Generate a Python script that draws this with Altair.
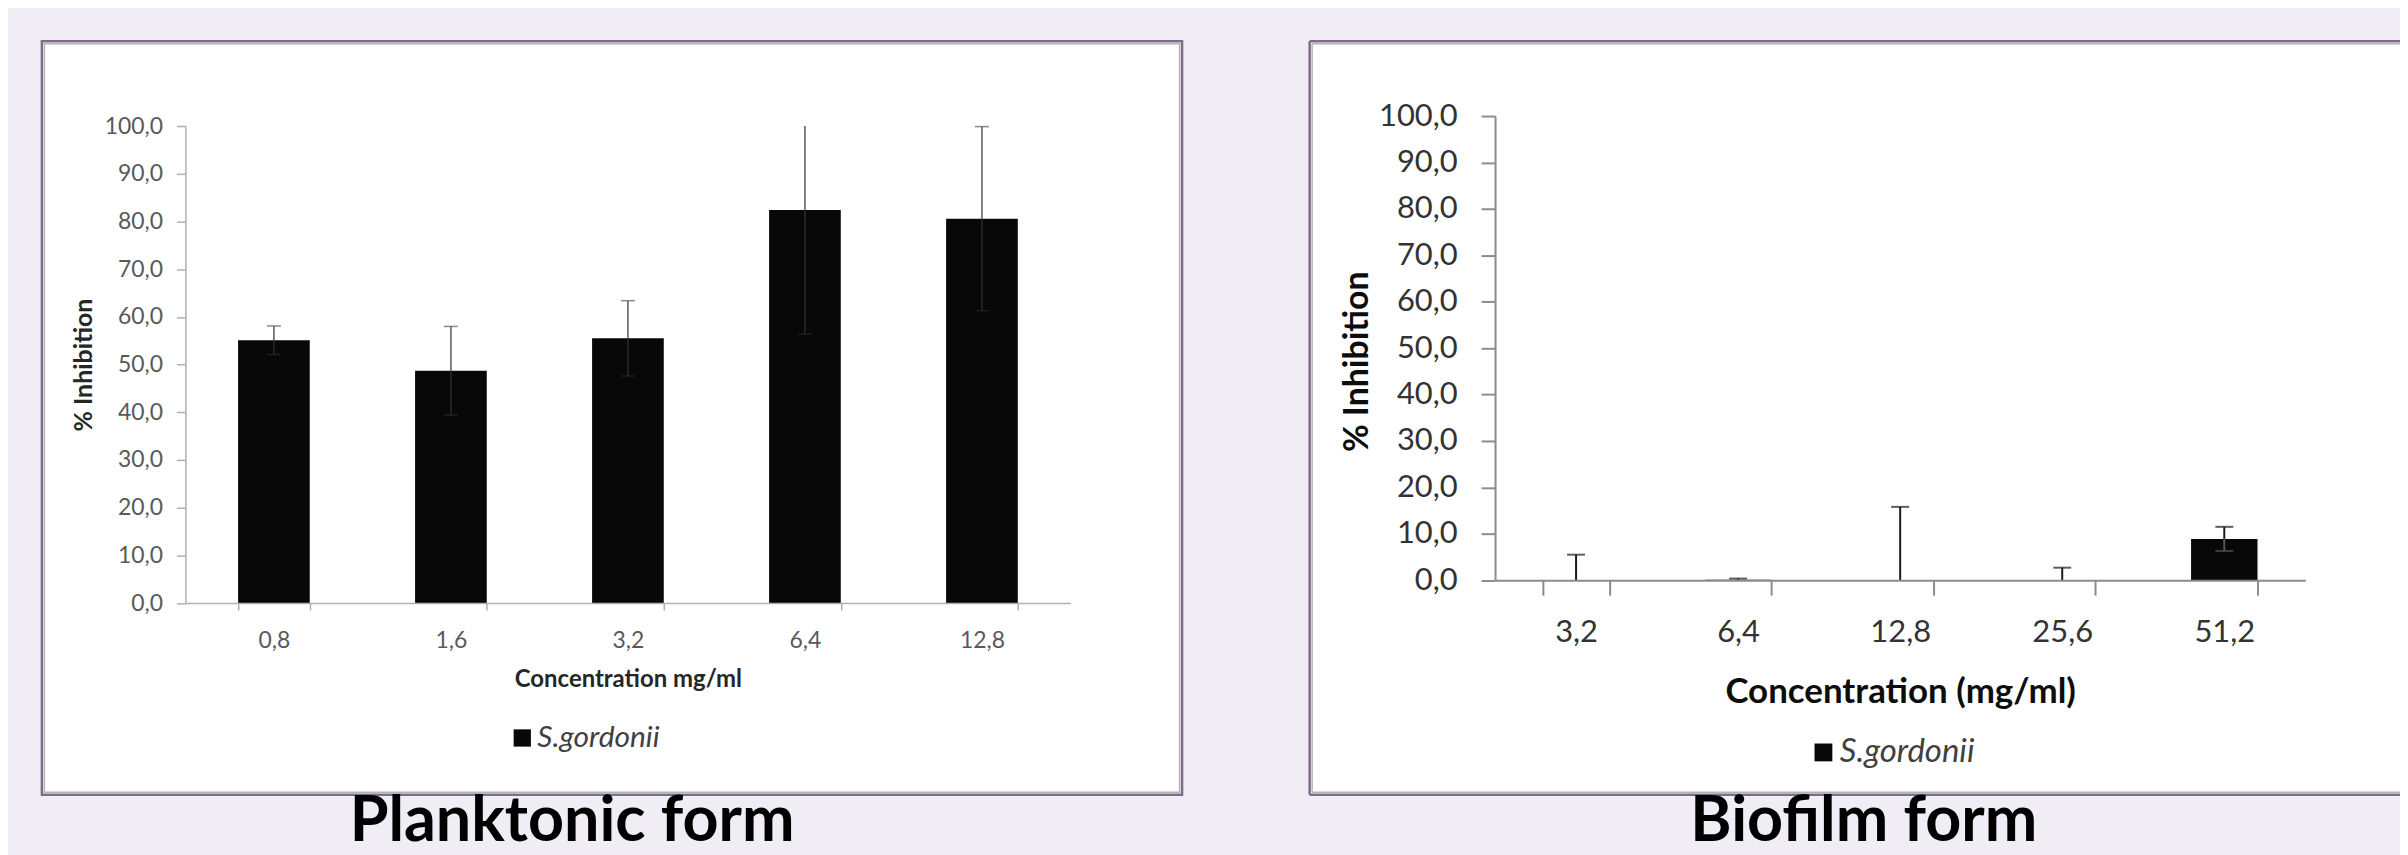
import altair as alt
import pandas as pd

# ---- data ----
PLANK_CONC = ["0,8", "1,6", "3,2", "6,4", "12,8"]
PLANK_MEAN = [55.1, 48.7, 55.5, 82.4, 80.6]
PLANK_SD = [3.0, 9.3, 7.9, 26.0, 19.3]

BIO_CONC = ["3,2", "6,4", "12,8", "25,6", "51,2"]
BIO_MEAN = [0.0, 0.1, 0.0, 0.0, 8.9]
BIO_SD = [5.5, 0.25, 15.8, 2.7, 2.6]

Y_TICKS = [0, 10, 20, 30, 40, 50, 60, 70, 80, 90, 100]
SERIES = "S.gordonii"
PANEL_TITLES = ["Planktonic form", "Biofilm form"]
X_TITLES = ["Concentration mg/ml", "Concentration (mg/ml)"]
Y_TITLE = "% Inhibition"

FONT = "Lato"
FRAME_COLOR = "#7f6b8e"
FRAME_INNER = "#b4b4b4"
LABEL_EXPR = "replace(format(datum.value, '.1f'), '.', ',')"


def panel(conc, mean, sd, cfg):
    df = pd.DataFrame({"conc": conc, "mean": mean, "sd": sd,
                       "series": [SERIES] * len(conc)})
    base = alt.Chart(df).transform_calculate(
        upper="min(100, datum.mean + datum.sd)",
        lower="max(0, datum.mean - datum.sd)",
        rawup="datum.mean + datum.sd",
        rawlo="datum.mean - datum.sd",
    )
    xaxis = alt.Axis(
        title=cfg["xtitle"], titleFont=FONT, titleFontSize=cfg["xtfs"],
        titleFontWeight="bold", titleColor=cfg["tcolor"], titleY=cfg["xty"],
        labelFont=FONT, labelFontSize=cfg["lfs"], labelColor=cfg["lcolor"],
        labelAngle=0, labelPadding=cfg["xlp"], tickSize=cfg["xts"],
        tickBand="extent", domainColor=cfg["acolor"], tickColor=cfg["acolor"],
        domainWidth=cfg["aw"], tickWidth=cfg["aw"], grid=False, zindex=1,
    )
    xenc = alt.X("conc:N", sort=conc, axis=xaxis,
                 scale=alt.Scale(paddingInner=cfg["pi"], paddingOuter=cfg["pi"] / 2))
    yaxis_kw = dict(
        title=Y_TITLE, titleFont=FONT, titleFontSize=cfg["ytfs"],
        titleFontWeight="bold", titleColor=cfg["tcolor"], titlePadding=cfg["ytp"],
        values=Y_TICKS, labelExpr=LABEL_EXPR, labelFont=FONT,
        labelFontSize=cfg["lfs"], labelColor=cfg["lcolor"], labelPadding=cfg["ylp"],
        tickSize=cfg["yts"], domainColor=cfg["acolor"], tickColor=cfg["acolor"],
        domainWidth=cfg["aw"], tickWidth=cfg["aw"], grid=False, zindex=1,
    )
    if "yty" in cfg:
        yaxis_kw["titleY"] = cfg["yty"]
    yaxis = alt.Axis(**yaxis_kw)
    yscale_kw = dict(domain=[0, 100], nice=False, zero=True)
    if "yrange" in cfg:
        yscale_kw["range"] = cfg["yrange"]
    yscale = alt.Scale(**yscale_kw)

    def Y(field):
        return alt.Y(field, scale=yscale, axis=yaxis)

    bars = base.mark_bar(strokeWidth=0).encode(
        x=xenc, y=Y("mean:Q"),
        color=alt.Color("series:N", scale=alt.Scale(domain=[SERIES], range=["#080808"]),
                        legend=alt.Legend(
                            orient="none", legendX=cfg["legx"], legendY=cfg["legy"],
                            title=None, symbolType="square", symbolSize=cfg["symsize"],
                            symbolStrokeWidth=0, labelFont=FONT,
                            labelFontSize=cfg["legfs"], labelFontStyle="italic",
                            labelColor="#404040", labelOffset=0, padding=0)),
    )
    err_up = base.mark_rule(color=cfg["ecolor"], strokeWidth=cfg["ew"]).encode(
        x=xenc, y=Y("mean:Q"), y2="upper:Q")
    err_lo = base.mark_rule(color=cfg["elocolor"], strokeWidth=cfg["ew"]).encode(
        x=xenc, y=Y("lower:Q"), y2="mean:Q")
    cap_up = base.transform_filter("datum.rawup <= 100").mark_tick(
        color=cfg["ecolor"], size=cfg["capw"], thickness=cfg["ew"]).encode(
        x=xenc, y=Y("rawup:Q"))
    cap_lo = base.transform_filter("datum.rawlo > 0").mark_tick(
        color=cfg["elocolor"], size=cfg["capw"], thickness=cfg["ew"]).encode(
        x=xenc, y=Y("rawlo:Q"))

    dummy = alt.Chart(pd.DataFrame({"t": [cfg["ptitle"]]}))
    fx0, fx1, fy0, fy1 = cfg["frame"]
    layers = []
    if cfg["closed"]:
        layers.append(dummy.mark_rect(fill="white", stroke=FRAME_COLOR, strokeWidth=2.5).encode(
            x=alt.value(fx0), x2=alt.value(fx1), y=alt.value(fy0), y2=alt.value(fy1)))
        layers.append(dummy.mark_rect(fillOpacity=0, stroke=FRAME_INNER, strokeWidth=1.5).encode(
            x=alt.value(fx0 + 2.5), x2=alt.value(fx1 - 2.5), y=alt.value(fy0 + 2.5),
            y2=alt.value(fy1 - 2.5)))
    else:
        layers.append(dummy.mark_rect(fill="white", strokeWidth=0).encode(
            x=alt.value(fx0), x2=alt.value(fx1), y=alt.value(fy0), y2=alt.value(fy1)))
        for off, col, w in [(0, FRAME_COLOR, 2.5), (2.5, FRAME_INNER, 1.5)]:
            layers.append(dummy.mark_rule(color=col, strokeWidth=w).encode(
                x=alt.value(fx0 + off), y=alt.value(fy0 + off), y2=alt.value(fy1 - off)))
            layers.append(dummy.mark_rule(color=col, strokeWidth=w).encode(
                x=alt.value(fx0 + off), x2=alt.value(fx1), y=alt.value(fy0 + off)))
            layers.append(dummy.mark_rule(color=col, strokeWidth=w).encode(
                x=alt.value(fx0 + off), x2=alt.value(fx1), y=alt.value(fy1 - off)))

    title = dummy.mark_text(font=FONT, fontSize=63, fontWeight="bold", color="#000000",
                            align="center", baseline="alphabetic").encode(
        x=alt.value(cfg["ptx"]), y=alt.value(cfg["pty"]), text="t:N")

    layers += [bars, err_lo, err_up, cap_lo, cap_up, title]
    return alt.layer(*layers).properties(width=cfg["w"], height=cfg["h"])


left_cfg = dict(
    w=888, h=488.6, yrange=[488.6, 10.1], pi=0.595,
    xtitle=X_TITLES[0], xtfs=24, xty=65, tcolor="#262626",
    lfs=23, lcolor="#595959", xlp=20, xts=7, acolor="#b0b0b0", aw=1.5,
    ytfs=25, ytp=8, ylp=14, yts=9,
    legx=323, legy=609, symsize=300, legfs=30,
    ecolor="#5a5a5a", elocolor="#2a2a2a", ew=1.5, capw=14,
    frame=(-144, 1000, -75, 681), closed=True,
    ptitle=PANEL_TITLES[0], ptx=388, pty=727,
)
right_cfg = dict(
    w=813, h=465.7, pi=0.59,
    xtitle=X_TITLES[1], xtfs=35, xty=95, tcolor="#0d0d0d",
    lfs=31, lcolor="#333333", xlp=23, xts=15, acolor="#8c8c8c", aw=2,
    ytfs=34, ytp=4, ylp=24, yts=14, yty=246,
    legx=313, legy=622, symsize=320, legfs=33,
    ecolor="#1a1a1a", elocolor="#555555", ew=2, capw=18,
    frame=(-186, 908, -75, 681), closed=False,
    ptitle=PANEL_TITLES[1], ptx=370, pty=727,
)

left = panel(PLANK_CONC, PLANK_MEAN, PLANK_SD, left_cfg)
right = panel(BIO_CONC, BIO_MEAN, BIO_SD, right_cfg)

chart = alt.hconcat(left, right, spacing=426, bounds="flush").resolve_scale(
    x="independent", y="independent", color="independent"
).resolve_legend(color="independent").properties(
    autosize=alt.AutoSizeParams(type="none"),
    padding={"left": 178, "top": 107, "right": 2222, "bottom": 740},
    background="#f0eef4",
).configure_view(strokeWidth=0).configure(font=FONT)

chart.save("out.html", embed_options={"renderer": "svg", "actions": False})
